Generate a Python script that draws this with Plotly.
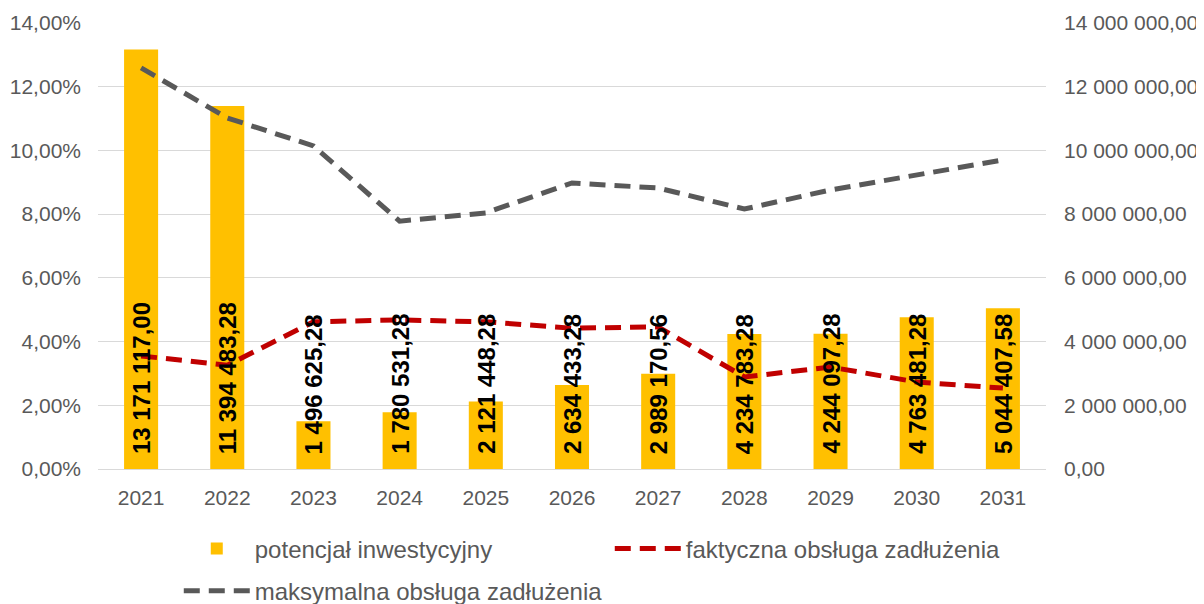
import plotly.graph_objects as go

years = ["2021", "2022", "2023", "2024", "2025", "2026", "2027", "2028", "2029", "2030", "2031"]
potencjal = [13171117.00, 11394483.28, 1496625.28, 1780531.28, 2121448.28, 2634433.28,
             2989170.56, 4234783.28, 4244097.28, 4763481.28, 5044407.58]
faktyczna = [0.0355, 0.0326, 0.0462, 0.0468, 0.0462, 0.0442, 0.0446, 0.0289, 0.0320, 0.0273, 0.0254]
maksymalna = [0.1259, 0.1102, 0.1014, 0.0778, 0.0804, 0.0898, 0.0882, 0.0816, 0.0876, 0.0923, 0.0970]

names = ["potencjał inwestycyjny", "faktyczna obsługa zadłużenia", "maksymalna obsługa zadłużenia"]

FONT = "Liberation Sans, Arial, sans-serif"
GREY = "#595959"


def fmt_pl(v):
    s = f"{v:,.2f}"
    return s.replace(",", " ").replace(".", ",")


fig = go.Figure()
fig.add_trace(go.Bar(x=years, y=potencjal, name=names[0], marker_color="#FFC000",
                     marker_line_width=0, yaxis="y", legend="legend"))
fig.add_trace(go.Scatter(x=years, y=faktyczna, name=names[1], mode="lines",
                         line=dict(color="#C00000", width=5, dash="16px,9px"), yaxis="y2",
                         legend="legend"))
fig.add_trace(go.Scatter(x=years, y=maksymalna, name=names[2], mode="lines",
                         line=dict(color="#595959", width=5, dash="16px,9px"), yaxis="y2",
                         legend="legend2"))

# category axis annotations use the serial index of each category
for i, v in enumerate(potencjal):
    fig.add_annotation(x=i, y=0, xref="x", yref="y", text=fmt_pl(v), textangle=-90,
                       showarrow=False, yanchor="bottom", xanchor="center", yshift=13,
                       font=dict(family=FONT, size=24, color="black", weight="bold"))

legend_common = dict(orientation="h", xanchor="left", yanchor="middle",
                     font=dict(family=FONT, size=24, color=GREY), itemwidth=66,
                     bgcolor="rgba(0,0,0,0)")

fig.update_layout(
    width=1196, height=596,
    margin=dict(l=90, r=158, t=15, b=135, autoexpand=False),
    paper_bgcolor="white", plot_bgcolor="white",
    separators=", ",
    font=dict(family=FONT, size=21, color=GREY),
    bargap=0.605,
    showlegend=True,
    legend=dict(x=0.0852, y=-0.179, entrywidth=350, **legend_common),
    legend2=dict(x=0.0852, y=-0.274, **legend_common),
    xaxis=dict(type="category", range=[-0.5, len(years) - 0.5], showgrid=False,
               showline=True, linecolor="#d9d9d9", linewidth=1, ticks="",
               tickfont=dict(size=21, color=GREY), ticklabelstandoff=10, automargin=False),
    yaxis=dict(side="right", range=[0, 14000000], dtick=2000000, tickformat=",.2f",
               showgrid=True, gridcolor="#d9d9d9", gridwidth=1, zeroline=False,
               ticks="", tickfont=dict(size=21, color=GREY), ticklabelstandoff=17,
               automargin=False),
    yaxis2=dict(side="left", overlaying="y", range=[0, 0.14], dtick=0.02, tickformat=".2%",
                showgrid=False, zeroline=False, ticks="",
                tickfont=dict(size=21, color=GREY), ticklabelstandoff=16, automargin=False),
)

fig.write_html("out.html")
